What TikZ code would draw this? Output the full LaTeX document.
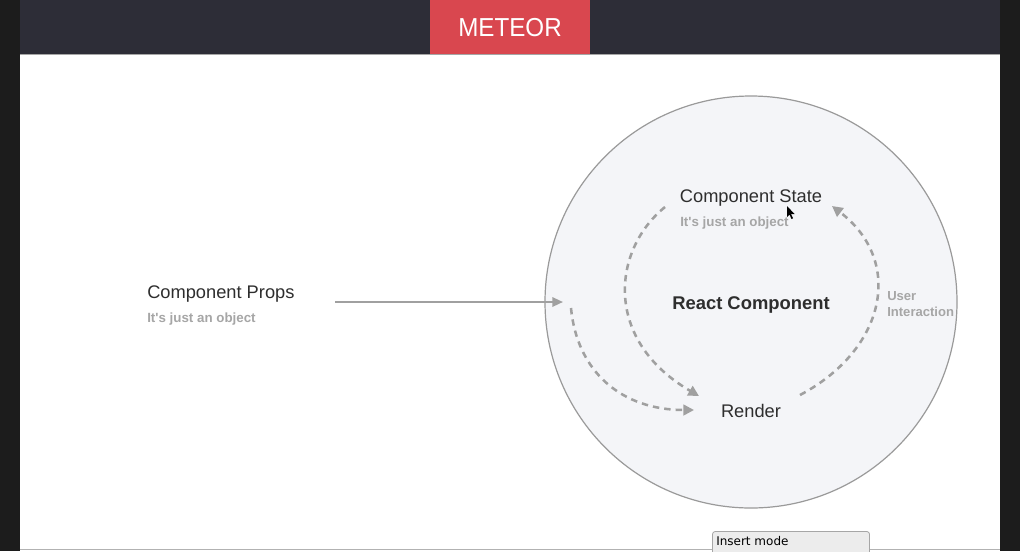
\documentclass[tikz,border=0pt]{standalone}
\usepackage{fontspec}
\setmainfont{Liberation Sans}[Ligatures=TeXOff]
\newfontfamily\dejavu{DejaVu Sans}
\usetikzlibrary{arrows.meta}
\definecolor{barbg}{HTML}{2D2D37}
\definecolor{meteorred}{HTML}{D9474F}
\definecolor{sideblk}{HTML}{1C1C1C}
\definecolor{circfill}{HTML}{F4F5F8}
\definecolor{circline}{HTML}{9A9A9A}
\definecolor{txtdark}{HTML}{2E2E2E}
\definecolor{txtgray}{HTML}{A6A6A6}
\definecolor{arrowgray}{HTML}{A0A0A0}
\tikzset{
  maintext/.style={inner sep=0pt, text=txtdark, font=\fontsize{13.7}{16}\selectfont},
  subtext/.style={inner sep=0pt, text=txtgray, font=\fontsize{10}{12}\selectfont\bfseries},
  flowarrow/.style={draw=arrowgray, line width=1.9pt, dash pattern=on 4.8pt off 3.8pt, -{Triangle[length=8pt,width=8pt]}},
  proparrow/.style={draw=arrowgray, line width=1.6pt, -{Triangle[length=8pt,width=7pt]}},
}
\begin{document}
\begin{tikzpicture}[x=0.75pt,y=-0.75pt]
\useasboundingbox (0,0) rectangle (1020,551);
% background
\fill[white] (0,0) rectangle (1020,551);
\fill[sideblk] (0,0) rectangle (20,551);
\fill[sideblk] (1000,0) rectangle (1020,551);
\fill[barbg] (20,0) rectangle (1000,54);
\fill[meteorred] (430,0) rectangle (590,54);
\draw[color=gray!70, line width=1.2pt] (20,54.5) -- (1000,54.5);
\node[text=white, inner sep=0pt, font=\fontsize{19.5}{22}\selectfont] (meteor) at (510,28) {\scalebox{0.93}[1]{METEOR}};
\draw[color=gray!60, line width=0.8pt] (20,549.5) -- (1000,549.5);

% circle
\node[circle, fill=circfill, draw=circline, line width=0.9pt, minimum size=412*0.75pt, inner sep=0pt] (comp) at (751,302) {};

% texts
\node[maintext] (state) at (751,198) {Component State};
\node[subtext, anchor=west] (statesub) at (680,223) {It's just an object};
\node[inner sep=0pt, text=txtdark, font=\fontsize{13.8}{16}\selectfont\bfseries] (react) at (751,305) {React Component};
\node[maintext] (render) at (751,410.5) {Render};
\node[subtext, anchor=north west, align=left, font=\fontsize{9.8}{12}\selectfont\bfseries] (user) at (887,291) {User\\Interaction};
\node[maintext, anchor=west] (props) at (147,294) {Component Props};
\node[subtext, anchor=west] (propssub) at (147,319) {It's just an object};

% coordinates
\coordinate (propsend) at (335,302);
\coordinate (circin) at (563,302);
\coordinate (s1) at (665,207);
\coordinate (e1) at (699,396);
\coordinate (s2) at (571,308);
\coordinate (e2) at (694,410);
\coordinate (s3) at (800,395);
\coordinate (e3) at (832,206);

% connectors
\draw[proparrow] (propsend) -- (circin);
\draw[flowarrow] (s1) .. controls (612,250) and (603,340) .. (e1);
\draw[flowarrow] (s2) .. controls (577,372) and (622,410) .. (e2);
\draw[flowarrow] (s3) .. controls (885,350) and (905,262) .. (e3);

% mouse cursor
\fill[black] (787,206) -- (787,217) -- (789.5,214.5) -- (791.5,219) -- (793,218.3) -- (791,214) -- (794.5,214) -- cycle;

% insert mode box
\draw[draw=gray!70, fill=gray!15, line width=0.6pt, rounded corners=2pt] (712.5,552) -- (712.5,531.5) -- (869.5,531.5) -- (869.5,552);
\node[anchor=west, inner sep=0pt, text=black, font=\dejavu\fontsize{9}{11}\selectfont] (insert) at (716,541) {Insert mode};
\end{tikzpicture}
\end{document}
